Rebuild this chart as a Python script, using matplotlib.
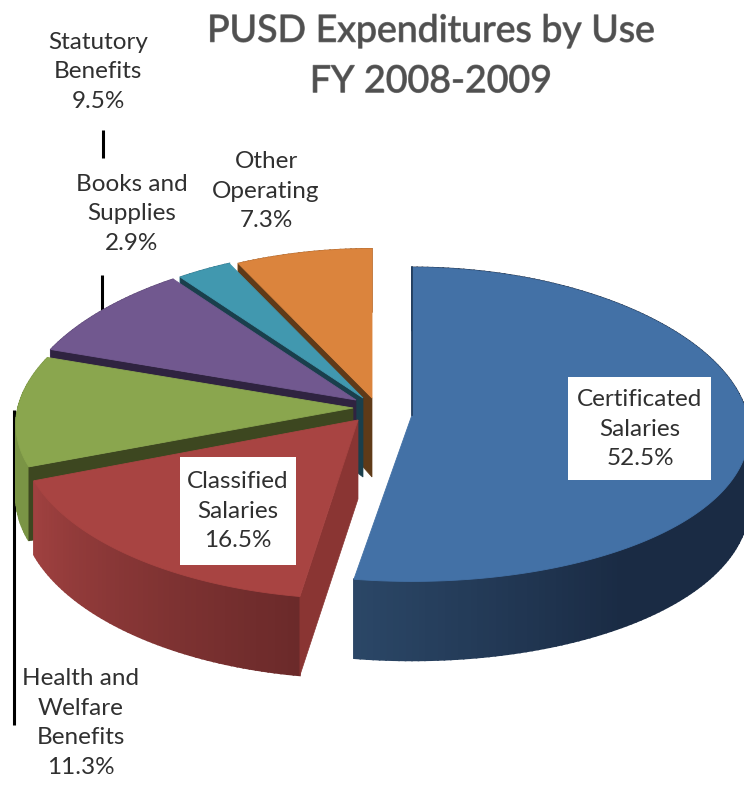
import numpy as np
import matplotlib
matplotlib.use("Agg")
import matplotlib.pyplot as plt
import matplotlib.patheffects as pe
from matplotlib.patches import Polygon, Rectangle
from matplotlib.colors import to_rgb

# Data
categories = ["Certificated\nSalaries", "Classified\nSalaries",
              "Health and\nWelfare\nBenefits", "Statutory\nBenefits",
              "Books and\nSupplies", "Other\nOperating"]
shares = [52.5, 16.5, 11.3, 9.5, 2.9, 7.3]
title = "PUSD Expenditures by Use\nFY 2008-2009"

# Style / layout
top_colors = ["#4371A6", "#A84442", "#8AA64E", "#71588F", "#4198AF", "#DB843D"]
radial_colors = ["#1F3A5A", "#8A3533", "#3D4720", "#2F2340", "#1A3F4C", "#5F3A18"]
rim_left = ["#2B4767", "#A04140", "#7A9445", "#5A4672", "#2F7288", "#A8642C"]
rim_right = ["#1A2B44", "#6B2A2A", "#7A9445", "#5A4672", "#2F7288", "#A8642C"]
apex_x = [412, 358, 353, 356, 363, 372]
apex_y = [415, 420, 408, 400, 398, 398]
persp_y = [0.06, 0.14, 0.05, 0.05, 0.05, 0.05]
RX, RY, PX = 335, 157, 0.11
TEXT = "#303030"
FONT = ["Lato", "DejaVu Sans"]

fig = plt.figure(figsize=(7.44, 7.87), dpi=100)
ax = fig.add_axes([0, 0, 1, 1])
ax.set_xlim(0, 744)
ax.set_ylim(787, 0)
ax.axis("off")


def rim(ax_, ay_, t, py):
    x = ax_ + RX * np.sin(t) * (1 - PX * np.cos(t))
    y = ay_ - RY * np.cos(t) * (1 - py * np.cos(t))
    return x, y


def depth(t):
    return 71 - 8 * np.cos(t)


# Leader lines sit behind the pie
for xs, ys in [((103, 103), (130, 158)), ((102, 102), (275, 315)), ((14, 14), (410, 725))]:
    ax.plot(xs, ys, color="black", lw=2.2, solid_capstyle="butt", zorder=1)

edges = np.radians(np.concatenate([[0], np.cumsum(shares)]) * 3.6)
order = [5, 4, 3, 2, 1, 0]
z = 2
for i in order:
    t0, t1 = edges[i], edges[i + 1]
    ts = np.linspace(t0, t1, max(int(np.degrees(t1 - t0)), 2) + 1)
    a, b = apex_x[i], apex_y[i]
    py = persp_y[i]
    # outer wall, shaded along the arc
    cl, cr = np.array(to_rgb(rim_left[i])), np.array(to_rgb(rim_right[i]))
    lo = rim(a, b, ts, py)
    for k in range(len(ts) - 1):
        if i == 0:
            # lighter at the end of the slice, darker toward the right
            f = np.clip((np.degrees(ts[k]) - 145) / 44, 0, 1)
            col = cr + (cl - cr) * f
        else:
            f = k / max(len(ts) - 2, 1)
            col = cr + (cl - cr) * f
        xa, ya = lo[0][k], lo[1][k]
        xb, yb = lo[0][k + 1], lo[1][k + 1]
        ax.add_patch(Polygon([(xa, ya), (xb, yb), (xb, yb + depth(ts[k + 1])), (xa, ya + depth(ts[k]))],
                             fc=col, ec=col, lw=1.2, zorder=z))
    z += 1
    # radial wall at the slice's leading edge
    x0, y0 = rim(a, b, t0, py)
    ax.add_patch(Polygon([(a, b), (x0, y0), (x0, y0 + depth(t0)), (a, b + depth(np.pi))],
                         fc=radial_colors[i], ec=radial_colors[i], lw=0.5, zorder=z))
    z += 1
    # top face
    pts = [(a, b)] + list(zip(lo[0], lo[1]))
    ax.add_patch(Polygon(pts, closed=True, fc=top_colors[i], ec=top_colors[i], lw=0.6, zorder=z))
    z += 1

# sliver along the straight back edge of the largest slice
bx, by = rim(apex_x[0], apex_y[0], edges[0], persp_y[0])
ax.plot([bx, apex_x[0]], [by, apex_y[0]], color=radial_colors[0], lw=1.2, zorder=z)
z += 1

# Title
ax.text(431, 56, title, ha="center", va="center", fontsize=27, color="#505050",
        family=FONT, linespacing=1.5, zorder=z,
        path_effects=[pe.withStroke(linewidth=0.8, foreground="#808080")])

# Data labels
label_pos = [(640, 429), (238, 511), (81, 723), (98, 72), (132, 214), (266, 191)]
boxes = [(568, 377, 143, 103), (180, 457, 116, 108)]
for (bx_, by_, w, h) in boxes:
    ax.add_patch(Rectangle((bx_, by_), w, h, fc="white", ec="none", zorder=z))
z += 1
for name, val, (x, y) in zip(categories, shares, label_pos):
    ax.text(x, y, f"{name}\n{val:.1f}%", ha="center", va="center", fontsize=17.5,
            color=TEXT, family=FONT, linespacing=1.5, zorder=z)

fig.savefig("out.png", dpi=100)
